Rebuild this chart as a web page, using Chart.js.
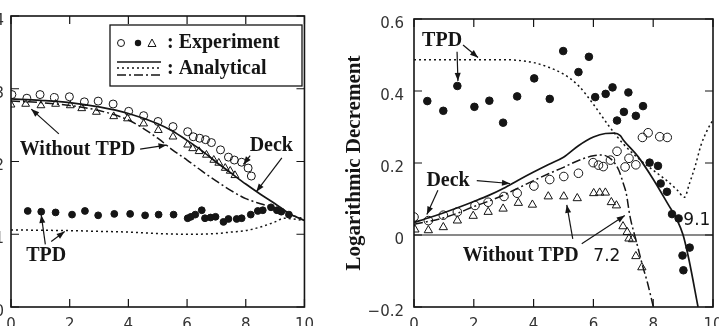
<!DOCTYPE html>
<html><head><meta charset="utf-8">
<script src="https://cdn.jsdelivr.net/npm/chart.js@4.4.1/dist/chart.umd.min.js"></script>
<style>
html,body{margin:0;padding:0;background:#fff;overflow:hidden;}
#wrap{position:relative;width:719px;height:326px;overflow:hidden;background:#fff;}
#left{position:absolute;left:-70px;top:0;}
#right{position:absolute;left:340px;top:0;}
</style></head><body>
<div id="wrap"><canvas id="left" width="393" height="347"></canvas><canvas id="right" width="400" height="347"></canvas></div>
<script>
// ---------- TICKS ----------
const xTicks = [0, 2, 4, 6, 8, 10];
const leftYTicks = [1.0, 1.1, 1.2, 1.3, 1.4];
const rightYTicks = [-0.2, 0, 0.2, 0.4, 0.6];

// ---------- LEFT PANEL DATA ----------
const leftDeckExpX = [0.03,0.54,0.99,1.48,1.99,2.5,2.97,3.48,4.01,4.52,5.01,5.52,6.02,6.21,6.43,6.63,6.83,7.14,7.41,7.61,7.86,8.08,8.19];
const leftDeckExpY = [1.292,1.287,1.292,1.288,1.289,1.282,1.283,1.279,1.269,1.263,1.255,1.248,1.241,1.234,1.232,1.230,1.226,1.216,1.206,1.202,1.199,1.191,1.180];

const leftNoTpdExpX = [0.0,0.5,1.02,1.52,2.02,2.41,2.91,3.5,3.97,4.52,5.02,5.52,6.02,6.19,6.41,6.66,6.91,7.08,7.3,7.47,7.63];
const leftNoTpdExpY = [1.278,1.279,1.277,1.279,1.277,1.273,1.268,1.262,1.259,1.252,1.243,1.234,1.223,1.218,1.214,1.209,1.202,1.198,1.191,1.187,1.181];

const leftTpdExpX = [0.57,1.03,1.52,2.08,2.52,2.97,3.52,4.06,4.57,5.03,5.54,6.02,6.13,6.28,6.5,6.61,6.8,6.97,7.24,7.41,7.69,7.86,8.17,8.41,8.58,8.86,9.06,9.21,9.47];
const leftTpdExpY = [1.132,1.131,1.130,1.127,1.132,1.126,1.128,1.128,1.126,1.127,1.127,1.122,1.124,1.127,1.133,1.122,1.123,1.124,1.117,1.121,1.121,1.122,1.127,1.132,1.133,1.137,1.133,1.131,1.127];

const leftCalcX = [0,1,2,3,4,5,5.5,6,6.5,7,7.5,8,8.5,9,9.5,10];
const leftDeckCalc = [1.286,1.284,1.281,1.275,1.266,1.252,1.242,1.229,1.215,1.199,1.184,1.169,1.155,1.142,1.128,1.119];
const leftNoTpdCalc = [1.283,1.281,1.277,1.270,1.257,1.232,1.216,1.202,1.187,1.173,1.160,1.149,1.142,1.136,1.127,1.121];
const leftTpdCalcX = [0,1,2,3,4,5,6,7,7.5,8,8.5,9,9.3,9.6,10];
const leftTpdCalc = [1.106,1.1055,1.105,1.104,1.103,1.101,1.100,1.101,1.103,1.105,1.110,1.117,1.122,1.121,1.119];

// ---------- RIGHT PANEL DATA ----------
const rightTpdExpX = [0.445,0.98,1.45,2.02,2.52,2.98,3.45,4.02,4.54,4.99,5.50,5.85,6.06,6.41,6.64,6.79,7.02,7.17,7.42,7.66,7.88,8.16,8.25,8.46,8.63,8.85,8.98,9.01,9.22];
const rightTpdExpY = [0.372,0.345,0.414,0.356,0.373,0.312,0.385,0.435,0.378,0.511,0.4525,0.495,0.383,0.392,0.410,0.318,0.342,0.396,0.331,0.358,0.201,0.192,0.143,0.120,0.058,0.046,-0.057,-0.098,-0.035];

const rightDeckExpX = [0,0.48,0.98,1.45,2.04,2.48,3.01,3.45,4.01,4.54,5.01,5.5,5.99,6.17,6.33,6.57,6.79,7.06,7.19,7.42,7.64,7.83,8.22,8.47];
const rightDeckExpY = [0.050,0.040,0.055,0.064,0.082,0.091,0.107,0.116,0.136,0.154,0.1625,0.1715,0.201,0.194,0.190,0.208,0.2325,0.189,0.213,0.195,0.271,0.284,0.273,0.271];

const rightNoTpdExpX = [0.03,0.48,0.98,1.45,1.98,2.48,2.98,3.49,3.96,4.49,5.01,5.46,6.01,6.21,6.40,6.60,6.77,6.99,7.13,7.19,7.31,7.42,7.62];
const rightNoTpdExpY = [0.015,0.013,0.0215,0.040,0.053,0.064,0.073,0.089,0.084,0.107,0.107,0.102,0.116,0.1175,0.1175,0.091,0.082,0.024,0.008,-0.010,-0.012,-0.059,-0.090];

const rightDeckCalcX = [0,0.5,1,1.5,2,2.5,3,3.5,4,4.5,5,5.5,6,6.4,6.7,6.9,7.0,7.5,8.0,8.5,8.8,9.0,9.2,9.5];
const rightDeckCalcY = [0.035,0.048,0.062,0.077,0.093,0.110,0.130,0.153,0.175,0.196,0.216,0.248,0.272,0.282,0.283,0.276,0.264,0.217,0.155,0.085,0.042,0.0,-0.07,-0.2];

const rightNoTpdCalcX = [0,0.5,1,1.5,2,2.5,3,3.5,4,4.5,5,5.5,6,6.3,6.6,6.85,7.0,7.1,7.22,7.44,7.66,7.8,8.0];
const rightNoTpdCalcY = [0.030,0.038,0.048,0.062,0.079,0.094,0.111,0.131,0.151,0.170,0.188,0.207,0.220,0.222,0.210,0.180,0.143,0.115,0.053,-0.019,-0.09,-0.13,-0.198];

const rightTpdCalcX = [0,1,2,3,3.5,4,4.5,5,5.5,6,6.5,7,7.5,8,8.5,8.8,9.05,9.2,9.4,9.6,9.8,10];
const rightTpdCalcY = [0.487,0.487,0.487,0.487,0.485,0.479,0.466,0.447,0.415,0.363,0.305,0.253,0.213,0.180,0.148,0.125,0.105,0.14,0.19,0.25,0.29,0.32];

// ---------- helpers ----------
const zip = (xs, ys) => xs.map((x, i) => ({x, y: ys[i]}));
const INK = '#151515';
const SERIF = 'bold 20px "Liberation Serif", "DejaVu Serif", serif';
const SANS = '17px "DejaVu Sans", sans-serif';
const fmt = v => Math.abs(v) < 1e-9 ? '0' : (Math.round(v * 10) / 10).toFixed(1).replace('-', '\u2212');

function expSet(data, style, r, filled) {
  return {data, showLine: false, pointStyle: style, pointRadius: r, pointHoverRadius: r,
    borderColor: INK, borderWidth: 1, backgroundColor: filled ? INK : 'rgba(255,255,255,0)'};
}
function calcSet(data, dash) {
  return {data, showLine: true, pointRadius: 0, borderColor: INK, borderWidth: dash.length ? 1.5 : 1.7,
    borderDash: dash, cubicInterpolationMode: 'monotone', fill: false};
}
const SOLID = [], DOTTED = [2, 3], DASHDOT = [9, 3, 2, 3];

function arrow(ctx, x1, y1, x2, y2) {
  ctx.beginPath(); ctx.moveTo(x1, y1); ctx.lineTo(x2, y2); ctx.stroke();
  const a = Math.atan2(y2 - y1, x2 - x1), L = 8, W = 3;
  ctx.beginPath(); ctx.moveTo(x2, y2);
  ctx.lineTo(x2 - L * Math.cos(a) + W * Math.sin(a), y2 - L * Math.sin(a) - W * Math.cos(a));
  ctx.lineTo(x2 - L * Math.cos(a) - W * Math.sin(a), y2 - L * Math.sin(a) + W * Math.cos(a));
  ctx.closePath(); ctx.fill();
}

function framePlugin(opts) {
  return {
    id: 'frame' + opts.name,
    afterDraw(chart) {
      const {ctx, chartArea: a, scales: {x, y}} = chart;
      ctx.save();
      ctx.strokeStyle = INK; ctx.fillStyle = INK;
      if (opts.zeroLine) {
        const py = y.getPixelForValue(0);
        ctx.lineWidth = 1.2;
        ctx.beginPath(); ctx.moveTo(a.left, py); ctx.lineTo(a.right, py); ctx.stroke();
      }
      ctx.lineWidth = 1.2;
      const L = 8;
      x.ticks.forEach(t => {
        const px = x.getPixelForValue(t.value);
        ctx.beginPath(); ctx.moveTo(px, a.bottom); ctx.lineTo(px, a.bottom - L);
        ctx.moveTo(px, a.top); ctx.lineTo(px, a.top + L); ctx.stroke();
      });
      y.ticks.forEach(t => {
        const py = y.getPixelForValue(t.value);
        ctx.beginPath(); ctx.moveTo(a.left, py); ctx.lineTo(a.left + L, py);
        ctx.moveTo(a.right, py); ctx.lineTo(a.right - L, py); ctx.stroke();
      });
      ctx.lineWidth = 1.6;
      ctx.strokeRect(a.left, a.top, a.right - a.left, a.bottom - a.top);
      // annotations
      ctx.lineWidth = 1.2;
      (opts.arrows || []).forEach(r => arrow(ctx, x.getPixelForValue(r[0]), y.getPixelForValue(r[1]),
        x.getPixelForValue(r[2]), y.getPixelForValue(r[3])));
      ctx.textAlign = 'center'; ctx.textBaseline = 'middle';
      (opts.labels || []).forEach(l => {
        ctx.font = l.serif ? SERIF : SANS;
        ctx.fillText(l.text, x.getPixelForValue(l.x), y.getPixelForValue(l.y));
      });
      if (opts.legend) {
        const L0 = a.left, T0 = a.top;
        ctx.fillStyle = '#fff';
        ctx.fillRect(L0 + 99, T0 + 9, 192, 61);
        ctx.fillStyle = INK; ctx.lineWidth = 1.3;
        ctx.strokeRect(L0 + 99, T0 + 9, 192, 61);
        ctx.lineWidth = 1;
        ctx.beginPath(); ctx.arc(L0 + 110, T0 + 27, 3.5, 0, Math.PI * 2); ctx.stroke();
        ctx.beginPath(); ctx.arc(L0 + 127, T0 + 27, 3.2, 0, Math.PI * 2); ctx.fill();
        ctx.beginPath(); ctx.moveTo(L0 + 141, T0 + 23); ctx.lineTo(L0 + 145, T0 + 30.5); ctx.lineTo(L0 + 137, T0 + 30.5); ctx.closePath(); ctx.stroke();
        ctx.font = SERIF; ctx.textAlign = 'left';
        ctx.fillText(': Experiment', L0 + 156, T0 + 27);
        ctx.fillText(': Analytical', L0 + 156, T0 + 53);
        ctx.lineWidth = 1.5;
        [[46, SOLID], [52, DOTTED], [59, DASHDOT]].forEach(([dy, d]) => {
          ctx.setLineDash(d); ctx.beginPath(); ctx.moveTo(L0 + 106, T0 + dy); ctx.lineTo(L0 + 150, T0 + dy); ctx.stroke();
        });
        ctx.setLineDash([]);
      }
      ctx.restore();
    }
  };
}

function axes(yMin, yMax, yTicks, yWidth, title, yPad) {
  return {
    x: {type: 'linear', min: 0, max: 10, afterBuildTicks: s => { s.ticks = xTicks.map(v => ({value: v})); },
      afterFit: s => { s.height = 40; },
      grid: {display: false, drawTicks: false}, border: {display: false},
      ticks: {padding: 9, color: '#333', font: {family: '"DejaVu Sans", sans-serif', size: 15}, callback: v => String(v), maxRotation: 0}},
    y: {type: 'linear', min: yMin, max: yMax, afterBuildTicks: s => { s.ticks = yTicks.map(v => ({value: v})); },
      afterFit: s => { s.width = yWidth; },
      grid: {display: false, drawTicks: false}, border: {display: false},
      title: title ? {display: true, text: title, color: INK, padding: {top: 2, bottom: 0},
        font: {family: '"Liberation Serif", serif', size: 21, weight: 'bold'}} : {display: false},
      ticks: {padding: yPad, labelOffset: 5, color: '#333', font: {family: '"DejaVu Sans", sans-serif', size: 15}, callback: v => fmt(v)}}
  };
}

const common = {responsive: false, animation: false, devicePixelRatio: 1,
  plugins: {legend: {display: false}, tooltip: {enabled: false}}};

new Chart(document.getElementById('left'), {
  type: 'scatter',
  data: {datasets: [
    expSet(zip(leftDeckExpX, leftDeckExpY), 'circle', 4, false),
    expSet(zip(leftNoTpdExpX, leftNoTpdExpY), 'triangle', 4.5, false),
    expSet(zip(leftTpdExpX, leftTpdExpY), 'circle', 3.4, true),
    calcSet(zip(leftCalcX, leftDeckCalc), SOLID),
    calcSet(zip(leftCalcX, leftNoTpdCalc), DASHDOT),
    calcSet(zip(leftTpdCalcX, leftTpdCalc), DOTTED)
  ]},
  options: Object.assign({}, common, {
    layout: {padding: {top: 10, right: 12, left: 0, bottom: 0}},
    scales: axes(1.0, 1.4, leftYTicks, 81, null, 7)
  }),
  plugins: [framePlugin({name: 'L', legend: true,
    labels: [
      {text: 'Without TPD', x: 2.27, y: 1.216, serif: true},
      {text: 'Deck', x: 8.87, y: 1.222, serif: true},
      {text: 'TPD', x: 1.2, y: 1.07, serif: true}
    ],
    arrows: [
      [1.63, 1.238, 0.69, 1.272],
      [4.4, 1.217, 5.3, 1.2226],
      [8.15, 1.208, 7.92, 1.196],
      [9.23, 1.205, 8.36, 1.1585],
      [1.17, 1.086, 1.03, 1.1266],
      [1.37, 1.09, 1.83, 1.1037]
    ]})]
});

new Chart(document.getElementById('right'), {
  type: 'scatter',
  data: {datasets: [
    expSet(zip(rightDeckExpX, rightDeckExpY), 'circle', 4.3, false),
    expSet(zip(rightNoTpdExpX, rightNoTpdExpY), 'triangle', 4.8, false),
    expSet(zip(rightTpdExpX, rightTpdExpY), 'circle', 3.8, true),
    calcSet(zip(rightDeckCalcX, rightDeckCalcY), SOLID),
    calcSet(zip(rightNoTpdCalcX, rightNoTpdCalcY), DASHDOT),
    calcSet(zip(rightTpdCalcX, rightTpdCalcY), DOTTED)
  ]},
  options: Object.assign({}, common, {
    layout: {padding: {top: 10, right: 27, left: 0, bottom: 0}},
    scales: axes(-0.2, 0.6, rightYTicks, 74, 'Logarithmic Decrement', 10)
  }),
  plugins: [framePlugin({name: 'R', zeroLine: true,
    labels: [
      {text: 'TPD', x: 0.94, y: 0.539, serif: true},
      {text: 'Deck', x: 1.14, y: 0.151, serif: true},
      {text: 'Without TPD', x: 3.57, y: -0.059, serif: true},
      {text: '7.2', x: 6.45, y: -0.059, serif: false},
      {text: '9.1', x: 9.46, y: 0.040, serif: false}
    ],
    arrows: [
      [1.64, 0.528, 2.14, 0.493],
      [1.44, 0.509, 1.47, 0.428],
      [2.1, 0.151, 3.21, 0.143],
      [0.8, 0.124, 0.43, 0.057],
      [5.31, -0.011, 5.11, 0.0835],
      [5.61, -0.024, 7.05, 0.054]
    ]})]
});
</script>
</body></html>
